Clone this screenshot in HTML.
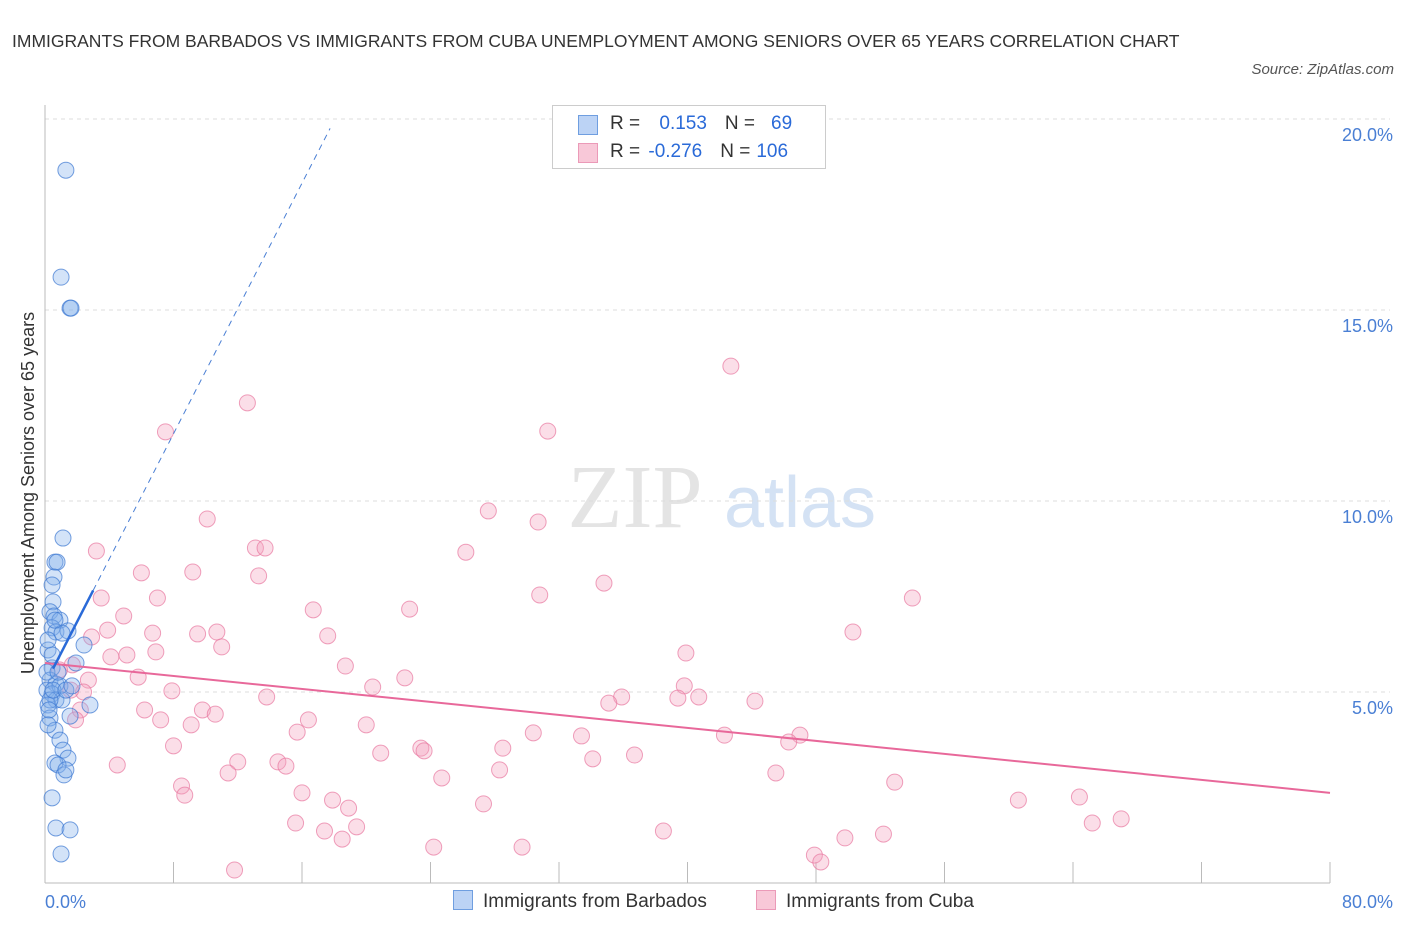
<!DOCTYPE html>
<html><head><meta charset="utf-8"><style>
body{margin:0;background:#fff;font-family:"Liberation Sans",sans-serif;}
#wrap{position:relative;width:1406px;height:930px;overflow:hidden;}
</style></head><body>
<div id="wrap">
<div style="position:absolute;left:12px;top:22px;font-size:17.5px;color:#333;line-height:38px;width:1200px;">IMMIGRANTS FROM BARBADOS VS IMMIGRANTS FROM CUBA UNEMPLOYMENT AMONG SENIORS OVER 65 YEARS CORRELATION CHART</div>
<div style="position:absolute;right:12px;top:61px;font-size:15px;color:#555;font-style:italic;">Source: ZipAtlas.com</div>
<svg id="svg" width="1406" height="930" style="position:absolute;left:0;top:0"></svg>
</div>
<script>
const blueX=[1.3,1.0,1.56,1.62,1.12,0.62,0.75,0.56,0.44,0.5,0.31,0.56,0.93,0.44,0.68,1.43,1.06,2.43,0.19,0.44,1.93,0.31,0.68,0.12,0.93,0.44,0.68,0.19,2.8,1.06,1.56,0.31,0.62,0.93,1.12,1.43,0.62,0.81,1.18,1.3,0.44,0.68,1.56,1.0,0.31,0.25,0.5,0.12,0.81,0.44,0.19,0.62,1.3,1.68,0.19];
const blueY=[18.66,15.86,15.05,15.05,9.03,8.4,8.4,8.01,7.8,7.36,7.1,6.99,6.88,6.68,6.57,6.6,6.54,6.23,6.1,5.63,5.76,5.31,5.21,5.05,5.16,4.95,4.79,4.66,4.66,4.79,4.37,4.32,4.0,3.74,3.48,3.27,3.14,3.09,2.83,2.96,2.23,1.44,1.39,0.76,4.79,4.53,5.05,5.52,5.52,5.97,6.36,6.88,5.05,5.16,4.14];
const pinkX=[42.7,12.6,31.3,7.5,10.1,27.6,30.7,3.2,13.1,13.7,26.2,6.0,9.2,13.3,34.8,3.5,7.0,30.8,16.7,22.7,54.0,4.9,3.9,6.7,9.5,10.7,2.9,17.6,50.3,11.0,5.1,4.1,6.9,39.9,18.7,1.7,0.9,5.8,22.4,2.7,20.4,7.9,39.8,13.8,35.9,40.7,39.4,44.2,35.1,2.4,6.2,9.8,10.6,7.2,16.4,9.1,20.0,15.7,30.4,42.3,33.4,47.0,46.3,8.0,23.4,20.9,28.5,23.6,12.0,14.5,15.0,36.7,34.1,4.5,11.4,28.3,24.7,45.5,8.5,8.7,52.9,16.0,17.9,18.9,27.3,60.6,64.4,15.6,19.4,17.4,65.2,67.0,18.5,38.5,52.2,49.8,24.2,29.7,47.9,48.3,11.8,2.2,1.6,1.9];
const pinkY=[13.53,12.57,11.83,11.81,9.53,9.74,9.45,8.69,8.77,8.77,8.66,8.12,8.14,8.04,7.85,7.46,7.46,7.54,7.15,7.17,7.46,6.99,6.62,6.54,6.52,6.57,6.44,6.47,6.57,6.18,5.97,5.92,6.05,6.02,5.68,5.71,5.58,5.39,5.37,5.31,5.13,5.03,5.16,4.87,4.87,4.87,4.84,4.76,4.71,5.0,4.53,4.53,4.42,4.27,4.27,4.14,4.14,3.95,3.93,3.87,3.85,3.87,3.69,3.59,3.53,3.4,3.53,3.46,3.17,3.17,3.06,3.35,3.25,3.09,2.88,2.96,2.75,2.88,2.54,2.3,2.64,2.36,2.17,1.96,2.07,2.17,2.25,1.57,1.47,1.36,1.57,1.68,1.15,1.36,1.28,1.18,0.94,0.94,0.73,0.55,0.34,4.53,5.05,4.27];
const yTicks=[5,10,15,20];
const yTickLabels=["5.0%","10.0%","15.0%","20.0%"];
const xTicks=[0,8,16,24,32,40,48,56,64,72,80];
const blueFit=[5.2,0.82];
const pinkFit=[5.76,-0.0425];
const X0=45,X1=1330,Y0=883,PX=(X1-X0)/80,PY=38.2;
const xs=v=>X0+v*PX, ys=v=>Y0-v*PY;
const svg=document.getElementById('svg');const NS='http://www.w3.org/2000/svg';
function mk(t,a){const e=document.createElementNS(NS,t);for(const k in a)e.setAttribute(k,a[k]);svg.appendChild(e);return e;}
// watermark
let w=mk('text',{x:635,y:527,'font-size':90,'font-family':'Liberation Serif, serif',fill:'#e4e4e4','text-anchor':'middle'});w.textContent='ZIP';


w=mk('text',{x:800,y:527,'font-size':72,'font-family':'Liberation Sans, sans-serif',fill:'#d4e2f4','text-anchor':'middle'});w.textContent='atlas';


yTicks.forEach((t,i)=>{
 const g=mk('line',{x1:X0,x2:1390,y1:ys(t),y2:ys(t),stroke:'#ddd','stroke-dasharray':'4,4'});
 
 
 const l=mk('text',{x:1393,y:ys(t)+22,'font-size':18,fill:'#4a7fd4','text-anchor':'end'});l.textContent=yTickLabels[i];
 
 
});
let ax=mk('line',{x1:X0,x2:X0,y1:105,y2:Y0,stroke:'#bbb'});


ax=mk('line',{x1:X0,x2:X1,y1:Y0,y2:Y0,stroke:'#bbb'});


xTicks.forEach(t=>{const k=mk('line',{x1:xs(t),x2:xs(t),y1:862,y2:Y0,stroke:'#bbb'});
 
 });
let xl=mk('text',{x:45,y:908,'font-size':18,fill:'#4a7fd4'});xl.textContent='0.0%';


xl=mk('text',{x:1393,y:908,'font-size':18,fill:'#4a7fd4','text-anchor':'end'});xl.textContent='80.0%';


let yt=mk('text',{x:0,y:0,'font-size':18,fill:'#333','text-anchor':'middle',transform:'translate(34,493) rotate(-90)'});yt.textContent='Unemployment Among Seniors over 65 years';


pinkX.forEach((x,i)=>{const c=mk('circle',{cx:xs(x),cy:ys(pinkY[i]),r:8,fill:'rgba(244,160,190,0.35)',stroke:'rgba(232,120,160,0.7)','stroke-width':1});
 
 });
blueX.forEach((x,i)=>{const c=mk('circle',{cx:xs(x),cy:ys(blueY[i]),r:8,fill:'rgba(130,175,235,0.35)',stroke:'rgba(60,120,210,0.7)','stroke-width':1});
 
 });
let tl=mk('line',{x1:xs(0),y1:ys(pinkFit[0]),x2:xs(80),y2:ys(pinkFit[0]+80*pinkFit[1]),stroke:'#e8689a','stroke-width':2});


tl=mk('line',{x1:xs(3),y1:ys(blueFit[0]+3*blueFit[1]),x2:xs(17.75),y2:ys(blueFit[0]+17.75*blueFit[1]),stroke:'#4a7fd4','stroke-width':1,'stroke-dasharray':'6,5'});


tl=mk('line',{x1:xs(0.5),y1:ys(blueFit[0]+0.5*blueFit[1]),x2:xs(3),y2:ys(blueFit[0]+3*blueFit[1]),stroke:'#2a6ad8','stroke-width':2.5});


</script>
<div style="position:absolute;left:552px;top:105px;width:272px;height:62px;border:1px solid #ccc;background:#fff;font-size:19px;color:#333;">
 <div style="position:absolute;left:25px;top:9px;width:18px;height:18px;background:#bcd3f5;border:1px solid #6f9ee0;"></div>
 <div style="position:absolute;left:57px;top:7px;">R = <span style="color:#2a6ad8;margin-left:14px">0.153</span><span style="margin-left:18px">N =</span><span style="color:#2a6ad8;margin-left:16px">69</span></div>
 <div style="position:absolute;left:25px;top:37px;width:18px;height:18px;background:#f8c8d8;border:1px solid #eb9ab8;"></div>
 <div style="position:absolute;left:57px;top:35px;">R = <span style="color:#2a6ad8;margin-left:3px">-0.276</span><span style="margin-left:18px">N =</span><span style="color:#2a6ad8;margin-left:6px">106</span></div>
</div>
<div style="position:absolute;left:453px;top:890px;font-size:19px;color:#333;">
 <span style="display:inline-block;width:18px;height:18px;background:#bcd3f5;border:1px solid #6f9ee0;vertical-align:-3px;margin-right:10px"></span>Immigrants from Barbados</div>
<div style="position:absolute;left:756px;top:890px;font-size:19px;color:#333;">
 <span style="display:inline-block;width:18px;height:18px;background:#f8c8d8;border:1px solid #eb9ab8;vertical-align:-3px;margin-right:10px"></span>Immigrants from Cuba</div>
</body></html>
